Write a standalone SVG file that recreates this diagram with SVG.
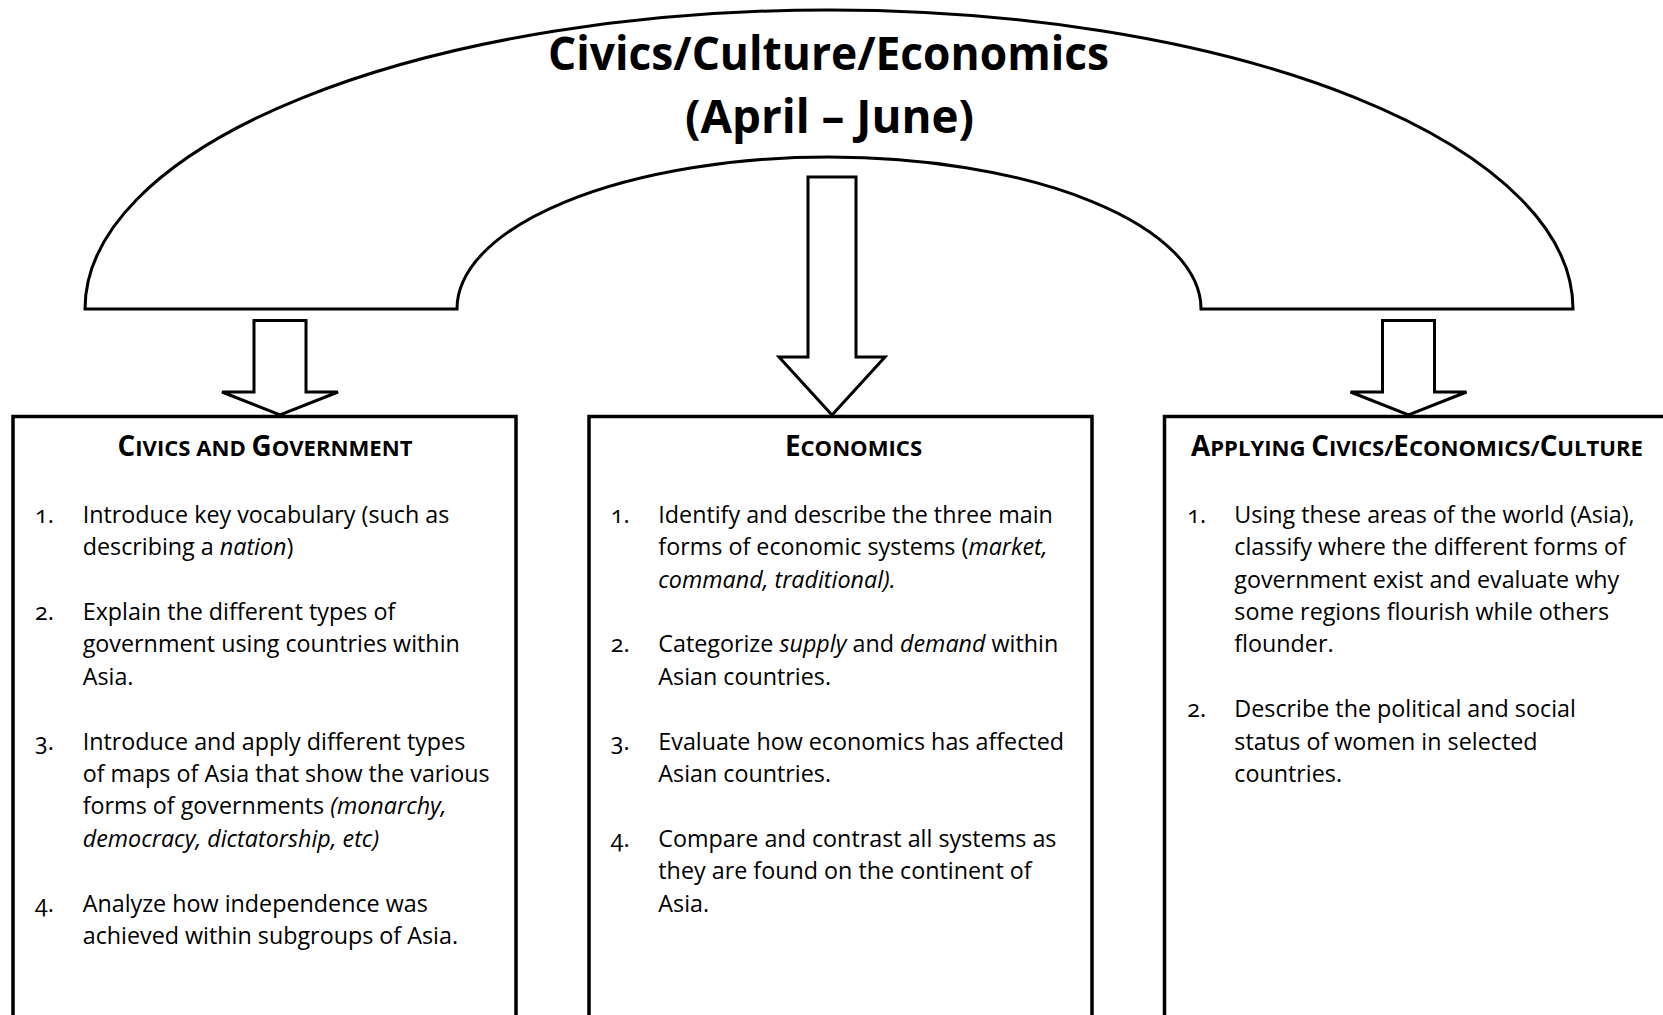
<svg xmlns="http://www.w3.org/2000/svg" width="1663" height="1015" viewBox="0 0 1663 1015">
<style>
.shape{fill:#fff;stroke:#000;stroke-width:3;stroke-linejoin:miter}
.box{fill:#fff;stroke:#000;stroke-width:3.5}
.title{font-family:"Open Sans","Noto Sans",sans-serif;font-weight:700;font-size:46px;fill:#000}
.hdr{font-family:"Open Sans","Noto Sans",sans-serif;font-weight:700;fill:#000;text-anchor:middle}
.big{font-size:27.8px}
.sm{font-size:22.1px}
.t{font-family:"Open Sans","Noto Sans",sans-serif;font-size:23.3px;fill:#000}
.n{font-variant-numeric:oldstyle-nums}
.i{font-style:italic}
</style>
<rect width="1663" height="1015" fill="#fff"/>
<g id="topic">
<path class="shape" d="M 85 309 A 744 299 0 0 1 1573 309 L 1201 309 A 372 152 0 0 0 457 309 Z"/>
<text class="title" x="828.5" y="70" text-anchor="middle" textLength="561" lengthAdjust="spacingAndGlyphs">Civics/Culture/Economics</text>
<text class="title" x="829.5" y="133" text-anchor="middle" textLength="289" lengthAdjust="spacingAndGlyphs">(April – June)</text>
</g>
<g id="connectors">
<polygon class="shape" points="254,320.5 306,320.5 306,392 338,392 280,415 222,392 254,392"/>
<polygon class="shape" points="808,177 856,177 856,357 885,357 832,415 779,357 808,357"/>
<polygon class="shape" points="1382.5,320.5 1434.5,320.5 1434.5,392 1466.5,392 1408.5,415 1350.5,392 1382.5,392"/>
</g>
<g id="civics-government">
<rect class="box" x="13" y="416.5" width="503" height="700"/>
<text class="hdr" x="265" y="456"><tspan class="big">C</tspan><tspan class="sm">IVICS AND </tspan><tspan class="big">G</tspan><tspan class="sm">OVERNMENT</tspan></text>
<g class="t">
<text class="n" x="35" y="522.7">1.</text>
<text x="82.7" y="522.7">Introduce key vocabulary (such as</text>
<text x="82.7" y="555.1">describing a <tspan class="i">nation</tspan>)</text>
<text class="n" x="35" y="619.9">2.</text>
<text x="82.7" y="619.9">Explain the different types of</text>
<text x="82.7" y="652.3">government using countries within</text>
<text x="82.7" y="684.7">Asia.</text>
<text class="n" x="35" y="749.5">3.</text>
<text x="82.7" y="749.5">Introduce and apply different types</text>
<text x="82.7" y="781.9">of maps of Asia that show the various</text>
<text x="82.7" y="814.3">forms of governments <tspan class="i">(monarchy,</tspan></text>
<text x="82.7" y="846.7" class="i">democracy, dictatorship, etc)</text>
<text class="n" x="35" y="911.5">4.</text>
<text x="82.7" y="911.5">Analyze how independence was</text>
<text x="82.7" y="943.9">achieved within subgroups of Asia.</text>
</g>
</g>
<g id="economics">
<rect class="box" x="589" y="416.5" width="503" height="700"/>
<text class="hdr" x="853.5" y="456"><tspan class="big">E</tspan><tspan class="sm">CONOMICS</tspan></text>
<g class="t">
<text class="n" x="610.7" y="522.7">1.</text>
<text x="658.3" y="522.7">Identify and describe the three main</text>
<text x="658.3" y="555.1">forms of economic systems (<tspan class="i">market,</tspan></text>
<text x="658.3" y="587.5" class="i">command, traditional).</text>
<text class="n" x="610.7" y="652.3">2.</text>
<text x="658.3" y="652.3">Categorize <tspan class="i">supply</tspan> and <tspan class="i">demand</tspan> within</text>
<text x="658.3" y="684.7">Asian countries.</text>
<text class="n" x="610.7" y="749.5">3.</text>
<text x="658.3" y="749.5">Evaluate how economics has affected</text>
<text x="658.3" y="781.9">Asian countries.</text>
<text class="n" x="610.7" y="846.7">4.</text>
<text x="658.3" y="846.7">Compare and contrast all systems as</text>
<text x="658.3" y="879.1">they are found on the continent of</text>
<text x="658.3" y="911.5">Asia.</text>
</g>
</g>
<g id="applying">
<rect class="box" x="1164.5" y="416.5" width="503" height="700"/>
<text class="hdr" x="1417" y="456"><tspan class="big">A</tspan><tspan class="sm">PPLYING </tspan><tspan class="big">C</tspan><tspan class="sm">IVICS/</tspan><tspan class="big">E</tspan><tspan class="sm">CONOMICS/</tspan><tspan class="big">C</tspan><tspan class="sm">ULTURE</tspan></text>
<g class="t">
<text class="n" x="1187.3" y="522.7">1.</text>
<text x="1234.3" y="522.7">Using these areas of the world (Asia),</text>
<text x="1234.3" y="555.1">classify where the different forms of</text>
<text x="1234.3" y="587.5">government exist and evaluate why</text>
<text x="1234.3" y="619.9">some regions flourish while others</text>
<text x="1234.3" y="652.3">flounder.</text>
<text class="n" x="1187.3" y="717.1">2.</text>
<text x="1234.3" y="717.1">Describe the political and social</text>
<text x="1234.3" y="749.5">status of women in selected</text>
<text x="1234.3" y="781.9">countries.</text>
</g>
</g>
</svg>
